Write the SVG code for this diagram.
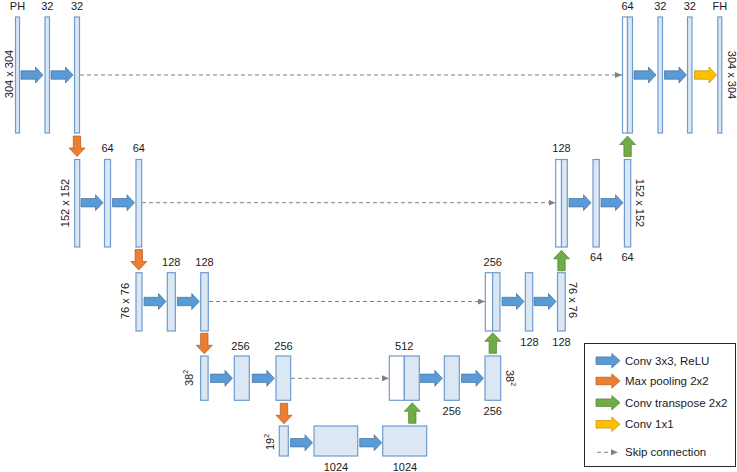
<svg xmlns="http://www.w3.org/2000/svg" xmlns:xlink="http://www.w3.org/1999/xlink" width="737" height="472" viewBox="0 0 737 472">
<style>
  text { font-family: "Liberation Sans", Arial, sans-serif; font-size: 11px; fill: #1a1a1a; }
  .c { text-anchor: middle; }
  .r { text-anchor: middle; dominant-baseline: central; }
  .lg { font-size: 11.5px; }
  .bar { fill: #dce7f4; stroke: #6e9bd0; stroke-width: 1.2; }
  .half { fill: #ffffff; stroke: #6e9bd0; stroke-width: 1.2; }
  .conv { fill: #5b9bd5; stroke: #41719c; stroke-width: 0.7; }
  .pool { fill: #ed7d31; stroke: #ae5a21; stroke-width: 0.7; }
  .up { fill: #70ad47; stroke: #507e32; stroke-width: 0.7; }
  .one { fill: #ffc000; stroke: #bc8c00; stroke-width: 0.7; }
  .skip { fill: none; stroke: #808080; stroke-width: 1; stroke-dasharray: 4 3; marker-end: url(#tri); }
</style>
<defs>
  <path id="ah" d="M0,-4.2 H14.5 V-8 L22,0 L14.5,8 V4.2 H0 Z"/>
  <path id="av" d="M-3.7,0 H3.7 V12 H8 L0,20.5 L-8,12 H-3.7 Z"/>
  <marker id="tri" markerWidth="7" markerHeight="6" refX="7" refY="3" orient="auto" markerUnits="userSpaceOnUse">
    <path d="M0,0 L7,3 L0,6 Z" fill="#808080"/>
  </marker>
</defs>

<g id="connectors">
  <!-- skip connections -->
  <path class="skip" d="M80,75 H622"/>
  <path class="skip" d="M142,202.7 H555.5"/>
  <path class="skip" d="M209,301.5 H485"/>
  <path class="skip" d="M291,378.3 H389"/>
  <!-- conv arrows level 1 -->
  <use href="#ah" class="conv" x="21" y="75"/>
  <use href="#ah" class="conv" x="51" y="75"/>
  <use href="#ah" class="conv" x="634" y="75"/>
  <use href="#ah" class="conv" x="664.5" y="75"/>
  <use href="#ah" class="one" x="694.5" y="75"/>
  <!-- level 2 -->
  <use href="#ah" class="conv" x="81" y="202.7"/>
  <use href="#ah" class="conv" x="112.5" y="202.7"/>
  <use href="#ah" class="conv" x="569" y="202.7"/>
  <use href="#ah" class="conv" x="601" y="202.7"/>
  <!-- level 3 -->
  <use href="#ah" class="conv" x="144" y="301.5"/>
  <use href="#ah" class="conv" x="177.3" y="301.5"/>
  <use href="#ah" class="conv" x="502" y="301.5"/>
  <use href="#ah" class="conv" x="534" y="301.5"/>
  <!-- level 4 -->
  <use href="#ah" class="conv" x="210.5" y="378.3"/>
  <use href="#ah" class="conv" x="252.3" y="378.3"/>
  <use href="#ah" class="conv" x="420.3" y="378.3"/>
  <use href="#ah" class="conv" x="461.5" y="378.3"/>
  <!-- level 5 -->
  <use href="#ah" class="conv" x="290.5" y="442.7"/>
  <use href="#ah" class="conv" x="359.7" y="442.7"/>
  <!-- max pooling -->
  <use href="#av" class="pool" x="77" y="136"/>
  <use href="#av" class="pool" x="138.8" y="249.5"/>
  <use href="#av" class="pool" x="204.3" y="333.3"/>
  <use href="#av" class="pool" x="284" y="403.3"/>
  <!-- up conv -->
  <use href="#av" class="up" transform="translate(412.3,423.3) scale(1,-1)"/>
  <use href="#av" class="up" transform="translate(492.8,353.3) scale(1,-1)"/>
  <use href="#av" class="up" transform="translate(561.5,270.8) scale(1,-1)"/>
  <use href="#av" class="up" transform="translate(627.6,156.5) scale(1,-1)"/>
</g>

<!-- Level 1 -->
<g id="n_ph"><rect class="bar" x="15.5" y="17" width="4" height="116"/><text class="c" x="17.5" y="10">PH</text><text class="r" transform="translate(9,74) rotate(-90)">304 x 304</text></g>
<g id="n_e1a"><rect class="bar" x="45" y="17" width="4.5" height="116"/><text class="c" x="47.3" y="10">32</text></g>
<g id="n_e1b"><rect class="bar" x="74.5" y="17" width="5" height="116"/><text class="c" x="77" y="10">32</text></g>
<g id="n_d1cat"><rect class="half" x="622.5" y="17" width="5" height="116"/><rect class="bar" x="627.5" y="17" width="5" height="116"/><text class="c" x="627.5" y="10">64</text></g>
<g id="n_d1a"><rect class="bar" x="658" y="17" width="4.5" height="116"/><text class="c" x="660.3" y="10">32</text></g>
<g id="n_d1b"><rect class="bar" x="687.5" y="17" width="4.5" height="116"/><text class="c" x="689.8" y="10">32</text></g>
<g id="n_fh"><rect class="bar" x="717.8" y="17" width="4" height="116"/><text class="c" x="719.8" y="10">FH</text><text class="r" transform="translate(731.5,75) rotate(90)">304 x 304</text></g>

<!-- Level 2 -->
<g id="n_e2p"><rect class="bar" x="74.7" y="159.5" width="5" height="87.5"/><text class="r" transform="translate(65,203) rotate(-90)">152 x 152</text></g>
<g id="n_e2a"><rect class="bar" x="104.5" y="159.5" width="6" height="87.5"/><text class="c" x="107.5" y="152">64</text></g>
<g id="n_e2b"><rect class="bar" x="136" y="159.5" width="5.7" height="87.5"/><text class="c" x="138.8" y="152">64</text></g>
<g id="n_d2cat"><rect class="half" x="555.7" y="159.5" width="5.8" height="87.5"/><rect class="bar" x="561.5" y="159.5" width="5.8" height="87.5"/><text class="c" x="561.5" y="152">128</text></g>
<g id="n_d2a"><rect class="bar" x="593" y="159.5" width="6.3" height="87.5"/><text class="c" x="596.2" y="261">64</text></g>
<g id="n_d2b"><rect class="bar" x="624.4" y="159.5" width="6.3" height="87.5"/><text class="c" x="627.6" y="261">64</text><text class="r" transform="translate(640,203) rotate(90)">152 x 152</text></g>

<!-- Level 3 -->
<g id="n_e3p"><rect class="bar" x="136" y="272.7" width="6" height="58.3"/><text class="r" transform="translate(125,301) rotate(-90)">76 x 76</text></g>
<g id="n_e3a"><rect class="bar" x="167.3" y="272.7" width="8" height="58.3"/><text class="c" x="171.3" y="265.5">128</text></g>
<g id="n_e3b"><rect class="bar" x="200.7" y="272.7" width="7.6" height="58.3"/><text class="c" x="204.5" y="265.5">128</text></g>
<g id="n_d3cat"><rect class="half" x="485.3" y="272.7" width="7.3" height="58.3"/><rect class="bar" x="492.6" y="272.7" width="7.4" height="58.3"/><text class="c" x="492.7" y="265.5">256</text></g>
<g id="n_d3a"><rect class="bar" x="525.3" y="272.7" width="7.4" height="58.3"/><text class="c" x="529.5" y="345.5">128</text></g>
<g id="n_d3b"><rect class="bar" x="557.5" y="272.7" width="7.7" height="58.3"/><text class="c" x="561.5" y="345.5">128</text><text class="r" transform="translate(573,300) rotate(90)">76 x 76</text></g>

<!-- Level 4 -->
<g id="n_e4p"><rect class="bar" x="200.7" y="356" width="7.4" height="44.3"/><text class="r" transform="translate(189,378) rotate(-90)">38<tspan font-size="7" dy="-4">2</tspan></text></g>
<g id="n_e4a"><rect class="bar" x="234.3" y="356" width="15" height="44.3"/><text class="c" x="240.5" y="350">256</text></g>
<g id="n_e4b"><rect class="bar" x="276" y="356" width="14.7" height="44.3"/><text class="c" x="283.5" y="350">256</text></g>
<g id="n_d4cat"><rect class="half" x="389.3" y="356" width="15" height="44.3"/><rect class="bar" x="404.3" y="356" width="15" height="44.3"/><text class="c" x="404.3" y="350">512</text></g>
<g id="n_d4a"><rect class="bar" x="444.3" y="356" width="15" height="44.3"/><text class="c" x="451.8" y="414.5">256</text></g>
<g id="n_d4b"><rect class="bar" x="485" y="356" width="15.7" height="44.3"/><text class="c" x="492.8" y="414.5">256</text><text class="r" transform="translate(510,378) rotate(90)">38<tspan font-size="7" dy="-4">2</tspan></text></g>

<!-- Level 5 -->
<g id="n_b0"><rect class="bar" x="279.3" y="426" width="9" height="30"/><text class="r" transform="translate(270,442) rotate(-90)">19<tspan font-size="7" dy="-4">2</tspan></text></g>
<g id="n_b1"><rect class="bar" x="314" y="426" width="43.7" height="30"/><text class="c" x="336" y="470.5">1024</text></g>
<g id="n_b2"><rect class="bar" x="382.7" y="426" width="44" height="30"/><text class="c" x="405" y="470.5">1024</text></g>

<!-- Legend -->
<g id="legend">
  <rect x="584.5" y="343.5" width="151" height="123" fill="#ffffff" stroke="#262626" stroke-width="1"/>
  <use href="#ah" class="conv" transform="translate(596,360.7) scale(1.09,0.9)"/>
  <text class="lg" x="625" y="364.8">Conv 3x3, ReLU</text>
  <use href="#ah" class="pool" transform="translate(596,381) scale(1.09,0.9)"/>
  <text class="lg" x="625" y="385.1">Max pooling 2x2</text>
  <use href="#ah" class="up" transform="translate(596,402.7) scale(1.09,0.9)"/>
  <text class="lg" x="625" y="406.8">Conv transpose 2x2</text>
  <use href="#ah" class="one" transform="translate(596,424.3) scale(1.09,0.9)"/>
  <text class="lg" x="625" y="428.4">Conv 1x1</text>
  <path class="skip" d="M597,452.3 H618"/>
  <text class="lg" x="625" y="456.4">Skip connection</text>
</g>
</svg>
